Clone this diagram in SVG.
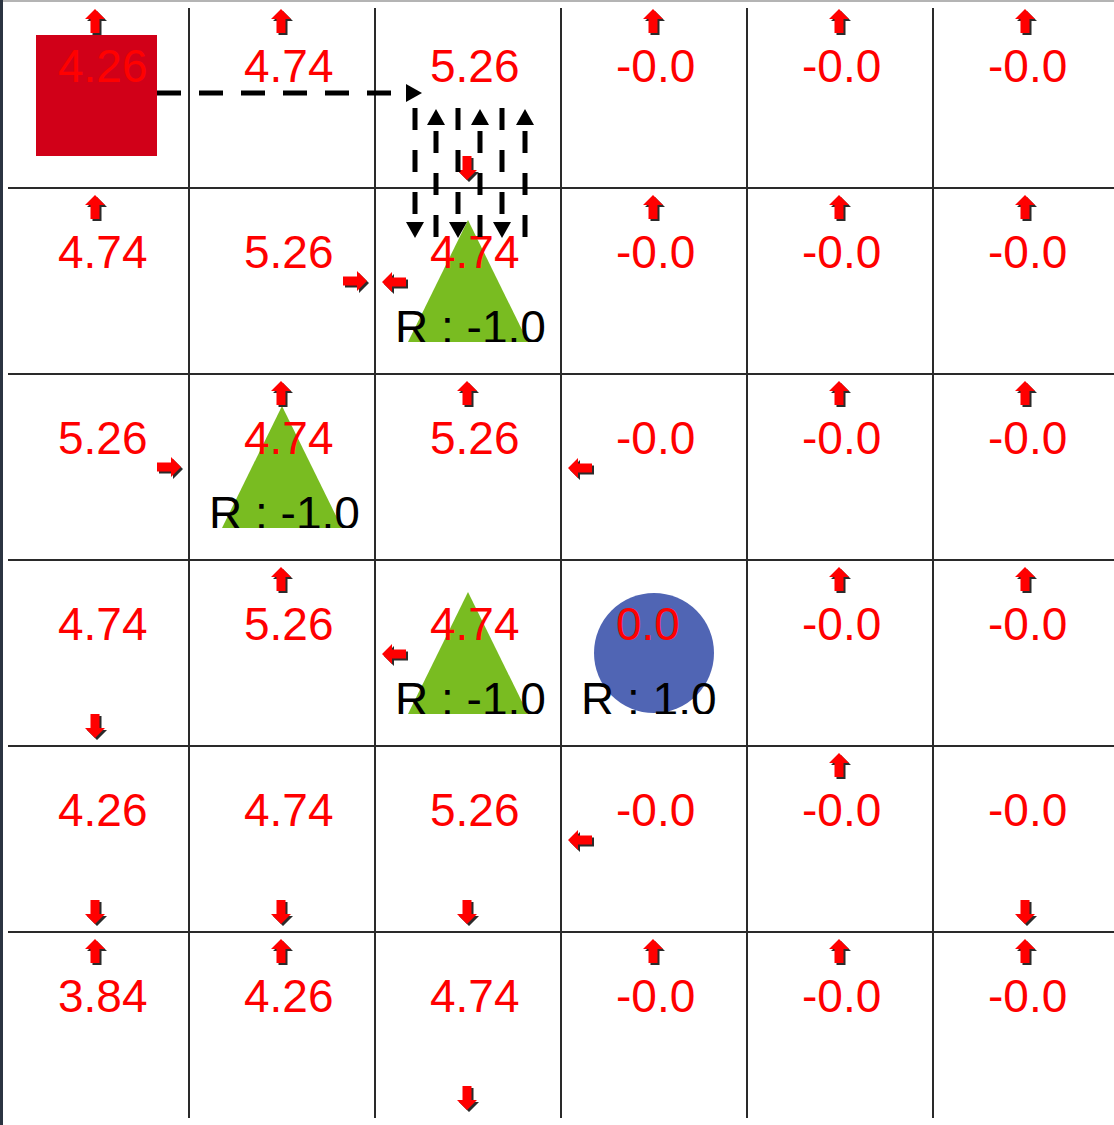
<svg xmlns="http://www.w3.org/2000/svg" xmlns:xlink="http://www.w3.org/1999/xlink" width="1114" height="1125" viewBox="0 0 1114 1125">
<style>
.grid{stroke:#2a2a2a;stroke-width:2}
.v{font-family:"Liberation Sans",Arial,sans-serif;font-size:46px;fill:#ff0000}
.r{font-family:"Liberation Sans",Arial,sans-serif;font-size:46px;fill:#000}
.tri{fill:#79bc21}
.sh{fill:#2b2b2b}
.rd{fill:#ff0000}
.dh{stroke:#000;stroke-width:5;fill:none;stroke-dasharray:24 18}
.dv{stroke:#000;stroke-width:5;fill:none;stroke-dasharray:22 20}
</style>
<defs>
<polygon id="au" points="0,-12 10,-2 4.5,-2 4.5,12 -4.5,12 -4.5,-2 -10,-2"/>
<marker id="mh" markerUnits="userSpaceOnUse" viewBox="0 0 16 18" refX="0" refY="9" markerWidth="16" markerHeight="18" orient="auto">
<path d="M0,0 L16,9 L0,18 z" fill="#000"/>
</marker>
<clipPath id="c12"><rect x="375" y="188" width="186" height="154"/></clipPath>
<clipPath id="c21"><rect x="189" y="374" width="186" height="154"/></clipPath>
<clipPath id="c32"><rect x="375" y="560" width="186" height="154"/></clipPath>
<clipPath id="c33"><rect x="561" y="560" width="186" height="154"/></clipPath>
</defs>
<rect x="0" y="0" width="1114" height="1125" fill="#fff"/>
<rect x="0" y="0" width="1114" height="2" fill="#b4b4b4"/>
<rect x="0" y="0" width="3" height="1125" fill="#2b3441"/>
<g id="grid" class="grid">
<line x1="189" y1="8" x2="189" y2="1118"/>
<line x1="375" y1="8" x2="375" y2="1118"/>
<line x1="561" y1="8" x2="561" y2="1118"/>
<line x1="747" y1="8" x2="747" y2="1118"/>
<line x1="933" y1="8" x2="933" y2="1118"/>
<line x1="8" y1="188" x2="1114" y2="188"/>
<line x1="8" y1="374" x2="1114" y2="374"/>
<line x1="8" y1="560" x2="1114" y2="560"/>
<line x1="8" y1="746" x2="1114" y2="746"/>
<line x1="8" y1="932" x2="1114" y2="932"/>
</g>
<!-- row 0 -->
<g id="cell-0-0">
<rect x="36" y="35" width="121" height="121" fill="#d10018"/>
<text class="v" x="58" y="82">4.26</text>
<use xlink:href="#au" class="sh" transform="translate(97,23)"/><use xlink:href="#au" class="rd" transform="translate(95,21)"/>
</g>
<g id="cell-0-1">
<text class="v" x="244" y="82">4.74</text>
<use xlink:href="#au" class="sh" transform="translate(283,23)"/><use xlink:href="#au" class="rd" transform="translate(281,21)"/>
</g>
<g id="cell-0-2">
<text class="v" x="430" y="82">5.26</text>
<use xlink:href="#au" class="sh" transform="translate(469,170) rotate(180)"/><use xlink:href="#au" class="rd" transform="translate(467,168) rotate(180)"/>
</g>
<g id="cell-0-3">
<text class="v" x="616" y="82">-0.0</text>
<use xlink:href="#au" class="sh" transform="translate(655,23)"/><use xlink:href="#au" class="rd" transform="translate(653,21)"/>
</g>
<g id="cell-0-4">
<text class="v" x="802" y="82">-0.0</text>
<use xlink:href="#au" class="sh" transform="translate(841,23)"/><use xlink:href="#au" class="rd" transform="translate(839,21)"/>
</g>
<g id="cell-0-5">
<text class="v" x="988" y="82">-0.0</text>
<use xlink:href="#au" class="sh" transform="translate(1027,23)"/><use xlink:href="#au" class="rd" transform="translate(1025,21)"/>
</g>
<!-- row 1 -->
<g id="cell-1-0">
<text class="v" x="58" y="268">4.74</text>
<use xlink:href="#au" class="sh" transform="translate(97,209)"/><use xlink:href="#au" class="rd" transform="translate(95,207)"/>
</g>
<g id="cell-1-1">
<text class="v" x="244" y="268">5.26</text>
<use xlink:href="#au" class="sh" transform="translate(357,283) rotate(90)"/><use xlink:href="#au" class="rd" transform="translate(355,281) rotate(90)"/>
</g>
<g id="cell-1-2">
<polygon class="tri" points="468,220 528,342 408,342"/>
<text class="v" x="430" y="268">4.74</text>
<text class="r" x="395" y="343" clip-path="url(#c12)">R : -1.0</text>
<use xlink:href="#au" class="sh" transform="translate(396,284) rotate(-90)"/><use xlink:href="#au" class="rd" transform="translate(394,282) rotate(-90)"/>
</g>
<g id="cell-1-3">
<text class="v" x="616" y="268">-0.0</text>
<use xlink:href="#au" class="sh" transform="translate(655,209)"/><use xlink:href="#au" class="rd" transform="translate(653,207)"/>
</g>
<g id="cell-1-4">
<text class="v" x="802" y="268">-0.0</text>
<use xlink:href="#au" class="sh" transform="translate(841,209)"/><use xlink:href="#au" class="rd" transform="translate(839,207)"/>
</g>
<g id="cell-1-5">
<text class="v" x="988" y="268">-0.0</text>
<use xlink:href="#au" class="sh" transform="translate(1027,209)"/><use xlink:href="#au" class="rd" transform="translate(1025,207)"/>
</g>
<!-- row 2 -->
<g id="cell-2-0">
<text class="v" x="58" y="454">5.26</text>
<use xlink:href="#au" class="sh" transform="translate(171,469) rotate(90)"/><use xlink:href="#au" class="rd" transform="translate(169,467) rotate(90)"/>
</g>
<g id="cell-2-1">
<polygon class="tri" points="282,406 342,528 222,528"/>
<text class="v" x="244" y="454">4.74</text>
<text class="r" x="209" y="529" clip-path="url(#c21)">R : -1.0</text>
<use xlink:href="#au" class="sh" transform="translate(283,395)"/><use xlink:href="#au" class="rd" transform="translate(281,393)"/>
</g>
<g id="cell-2-2">
<text class="v" x="430" y="454">5.26</text>
<use xlink:href="#au" class="sh" transform="translate(469,395)"/><use xlink:href="#au" class="rd" transform="translate(467,393)"/>
</g>
<g id="cell-2-3">
<text class="v" x="616" y="454">-0.0</text>
<use xlink:href="#au" class="sh" transform="translate(582,470) rotate(-90)"/><use xlink:href="#au" class="rd" transform="translate(580,468) rotate(-90)"/>
</g>
<g id="cell-2-4">
<text class="v" x="802" y="454">-0.0</text>
<use xlink:href="#au" class="sh" transform="translate(841,395)"/><use xlink:href="#au" class="rd" transform="translate(839,393)"/>
</g>
<g id="cell-2-5">
<text class="v" x="988" y="454">-0.0</text>
<use xlink:href="#au" class="sh" transform="translate(1027,395)"/><use xlink:href="#au" class="rd" transform="translate(1025,393)"/>
</g>
<!-- row 3 -->
<g id="cell-3-0">
<text class="v" x="58" y="640">4.74</text>
<use xlink:href="#au" class="sh" transform="translate(97,728) rotate(180)"/><use xlink:href="#au" class="rd" transform="translate(95,726) rotate(180)"/>
</g>
<g id="cell-3-1">
<text class="v" x="244" y="640">5.26</text>
<use xlink:href="#au" class="sh" transform="translate(283,581)"/><use xlink:href="#au" class="rd" transform="translate(281,579)"/>
</g>
<g id="cell-3-2">
<polygon class="tri" points="468,592 528,714 408,714"/>
<text class="v" x="430" y="640">4.74</text>
<text class="r" x="395" y="715" clip-path="url(#c32)">R : -1.0</text>
<use xlink:href="#au" class="sh" transform="translate(396,656) rotate(-90)"/><use xlink:href="#au" class="rd" transform="translate(394,654) rotate(-90)"/>
</g>
<g id="cell-3-3">
<circle cx="654" cy="653" r="60" fill="#5065b4"/>
<text class="v" x="616" y="640">0.0</text>
<text class="r" x="581" y="715" clip-path="url(#c33)">R : 1.0</text>
</g>
<g id="cell-3-4">
<text class="v" x="802" y="640">-0.0</text>
<use xlink:href="#au" class="sh" transform="translate(841,581)"/><use xlink:href="#au" class="rd" transform="translate(839,579)"/>
</g>
<g id="cell-3-5">
<text class="v" x="988" y="640">-0.0</text>
<use xlink:href="#au" class="sh" transform="translate(1027,581)"/><use xlink:href="#au" class="rd" transform="translate(1025,579)"/>
</g>
<!-- row 4 -->
<g id="cell-4-0">
<text class="v" x="58" y="826">4.26</text>
<use xlink:href="#au" class="sh" transform="translate(97,914) rotate(180)"/><use xlink:href="#au" class="rd" transform="translate(95,912) rotate(180)"/>
</g>
<g id="cell-4-1">
<text class="v" x="244" y="826">4.74</text>
<use xlink:href="#au" class="sh" transform="translate(283,914) rotate(180)"/><use xlink:href="#au" class="rd" transform="translate(281,912) rotate(180)"/>
</g>
<g id="cell-4-2">
<text class="v" x="430" y="826">5.26</text>
<use xlink:href="#au" class="sh" transform="translate(469,914) rotate(180)"/><use xlink:href="#au" class="rd" transform="translate(467,912) rotate(180)"/>
</g>
<g id="cell-4-3">
<text class="v" x="616" y="826">-0.0</text>
<use xlink:href="#au" class="sh" transform="translate(582,842) rotate(-90)"/><use xlink:href="#au" class="rd" transform="translate(580,840) rotate(-90)"/>
</g>
<g id="cell-4-4">
<text class="v" x="802" y="826">-0.0</text>
<use xlink:href="#au" class="sh" transform="translate(841,767)"/><use xlink:href="#au" class="rd" transform="translate(839,765)"/>
</g>
<g id="cell-4-5">
<text class="v" x="988" y="826">-0.0</text>
<use xlink:href="#au" class="sh" transform="translate(1027,914) rotate(180)"/><use xlink:href="#au" class="rd" transform="translate(1025,912) rotate(180)"/>
</g>
<!-- row 5 -->
<g id="cell-5-0">
<text class="v" x="58" y="1012">3.84</text>
<use xlink:href="#au" class="sh" transform="translate(97,953)"/><use xlink:href="#au" class="rd" transform="translate(95,951)"/>
</g>
<g id="cell-5-1">
<text class="v" x="244" y="1012">4.26</text>
<use xlink:href="#au" class="sh" transform="translate(283,953)"/><use xlink:href="#au" class="rd" transform="translate(281,951)"/>
</g>
<g id="cell-5-2">
<text class="v" x="430" y="1012">4.74</text>
<use xlink:href="#au" class="sh" transform="translate(469,1100) rotate(180)"/><use xlink:href="#au" class="rd" transform="translate(467,1098) rotate(180)"/>
</g>
<g id="cell-5-3">
<text class="v" x="616" y="1012">-0.0</text>
<use xlink:href="#au" class="sh" transform="translate(655,953)"/><use xlink:href="#au" class="rd" transform="translate(653,951)"/>
</g>
<g id="cell-5-4">
<text class="v" x="802" y="1012">-0.0</text>
<use xlink:href="#au" class="sh" transform="translate(841,953)"/><use xlink:href="#au" class="rd" transform="translate(839,951)"/>
</g>
<g id="cell-5-5">
<text class="v" x="988" y="1012">-0.0</text>
<use xlink:href="#au" class="sh" transform="translate(1027,953)"/><use xlink:href="#au" class="rd" transform="translate(1025,951)"/>
</g>
<g id="connectors">
<path class="dh" d="M157,93 L406,93" marker-end="url(#mh)"/>
<path class="dv" d="M415,108 L415,222" marker-end="url(#mh)"/>
<path class="dv" d="M458,108 L458,222" marker-end="url(#mh)"/>
<path class="dv" d="M502,108 L502,222" marker-end="url(#mh)"/>
<path class="dv" d="M436,237 L436,125" marker-end="url(#mh)"/>
<path class="dv" d="M480,237 L480,125" marker-end="url(#mh)"/>
<path class="dv" d="M525,237 L525,125" marker-end="url(#mh)"/>
</g>
</svg>
